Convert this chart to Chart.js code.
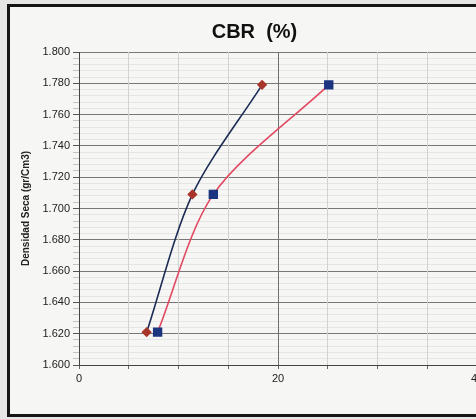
<!DOCTYPE html>
<html>
<head>
<meta charset="utf-8">
<script src="https://cdn.jsdelivr.net/npm/chart.js@4/dist/chart.umd.min.js"></script>
<style>
  html, body { margin: 0; padding: 0; width: 476px; height: 419px; overflow: hidden; background: #e6e6e4; }
  #marco { position: absolute; left: 7px; top: 4px; width: 540px; height: 407px; border: 3px solid #151515; background: #f6f6f4; }
  #grafico { position: absolute; left: 0; top: 0; }
</style>
</head>
<body>
<div id="marco"></div>
<canvas id="grafico" width="540" height="419"></canvas>
<script>
// Valores
const cbrRombos = [6.8, 11.4, 18.4];
const cbrCuadros = [7.9, 13.5, 25.1];
const densidadSeca = [1.621, 1.709, 1.779];
const ejeX = { min: 0, max: 40, paso: 5, mayor: 20 };
const ejeY = { min: 1.6, max: 1.8, paso: 0.004, mayor: 0.02 };

const puntos = (xs, ys) => xs.map((x, i) => ({ x: x, y: ys[i] }));
const esMayor = (v, m) => Math.abs(v / m - Math.round(v / m)) < 1e-6;

const ctx = document.getElementById('grafico').getContext('2d');

new Chart(ctx, {
  type: 'scatter',
  data: {
    datasets: [
      {
        data: puntos(cbrRombos, densidadSeca),
        showLine: true,
        tension: 0.3,
        borderColor: '#1d2c55',
        borderWidth: 1.6,
        pointStyle: 'rectRot',
        pointRadius: 4,
        pointBackgroundColor: '#a8352a',
        pointBorderColor: '#a8352a'
      },
      {
        data: puntos(cbrCuadros, densidadSeca),
        showLine: true,
        tension: 0.3,
        borderColor: '#e24a62',
        borderWidth: 1.6,
        pointStyle: 'rect',
        pointRadius: 5.5,
        pointBackgroundColor: '#1c3580',
        pointBorderColor: '#1c3580'
      }
    ]
  },
  options: {
    responsive: false,
    animation: false,
    layout: { padding: { left: 32, right: 63, top: 0, bottom: 34 } },
    plugins: {
      legend: { display: false },
      tooltip: { enabled: false },
      title: {
        display: true,
        text: 'CBR  (%)',
        color: '#111',
        font: { family: 'Liberation Sans, Arial', size: 20, weight: 'bold' },
        padding: { top: 20, bottom: 8 }
      }
    },
    scales: {
      x: {
        type: 'linear',
        min: ejeX.min,
        max: ejeX.max,
        afterFit: s => { s.height = 20; },
        ticks: {
          stepSize: ejeX.paso,
          autoSkip: false,
          maxRotation: 0,
          color: '#222',
          padding: 3,
          font: { family: 'Liberation Sans, Arial', size: 11 },
          callback: v => esMayor(v, ejeX.mayor) ? v : ''
        },
        grid: {
          z: -1,
          color: c => esMayor(c.tick.value, ejeX.mayor) ? '#707070' : '#d2d2d2',
          tickColor: '#666',
          tickLength: 4
        },
        border: { display: true, color: '#444', width: 1 }
      },
      y: {
        type: 'linear',
        min: ejeY.min,
        max: ejeY.max,
        afterFit: s => { s.width = 47; },
        title: {
          display: true,
          text: 'Densidad Seca (gr/Cm3)',
          color: '#222',
          font: { family: 'Liberation Sans, Arial', size: 10, weight: 'bold' },
          padding: { top: -12, bottom: 0 }
        },
        ticks: {
          stepSize: ejeY.paso,
          autoSkip: false,
          color: '#222',
          padding: 3,
          font: { family: 'Liberation Sans, Arial', size: 11 },
          callback: v => esMayor(v, ejeY.mayor) ? v.toFixed(3) : ''
        },
        grid: {
          z: -2,
          color: c => esMayor(c.tick.value, ejeY.mayor) ? '#787878' : '#e6e6e6',
          tickColor: c => esMayor(c.tick.value, ejeY.mayor) ? '#555' : '#c4c4c4',
          tickLength: 6
        },
        border: { display: true, color: '#444', width: 1 }
      }
    }
  }
});
</script>
</body>
</html>
